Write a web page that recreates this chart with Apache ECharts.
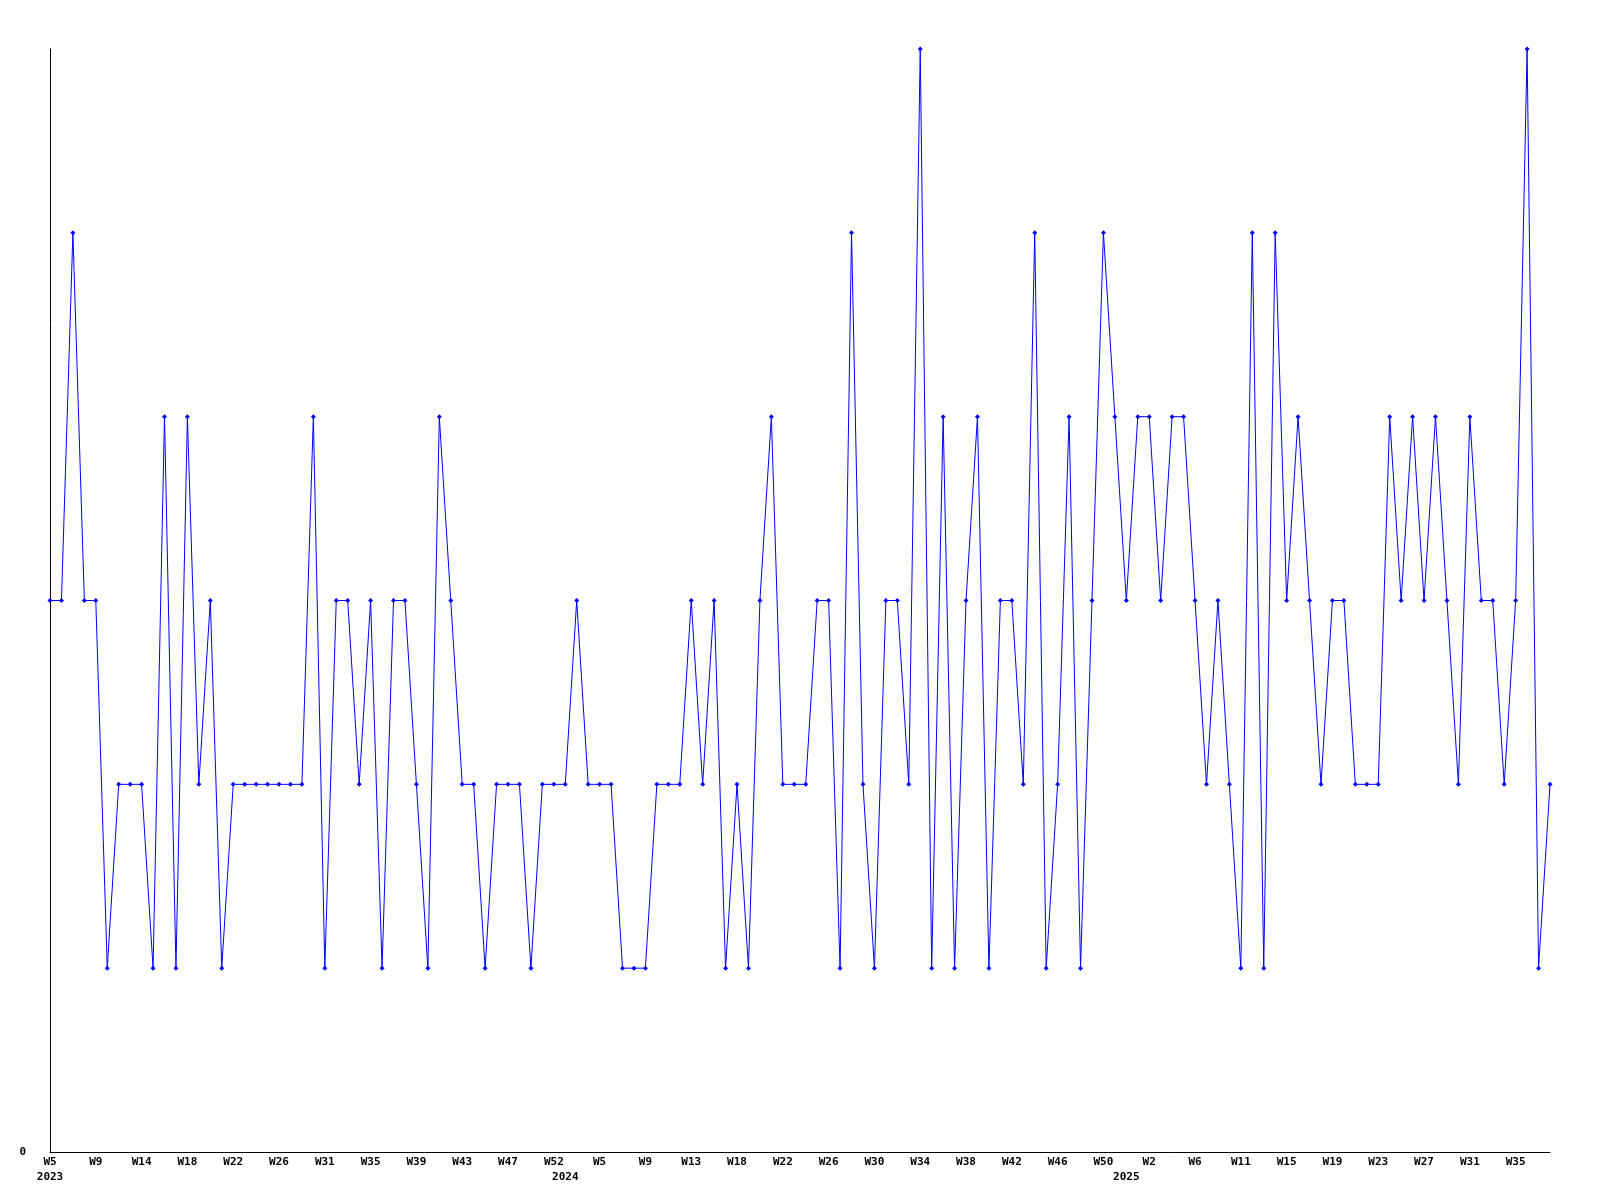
<!DOCTYPE html>
<html>
<head>
<meta charset="utf-8">
<script src="https://cdn.jsdelivr.net/npm/echarts@6/dist/echarts.min.js"></script>
<style>
html,body{margin:0;padding:0;background:#fff;}
#chart{width:1600px;height:1200px;}
</style>
</head>
<body>
<div id="chart"></div>
<script>
// Weekly counts, one per point (132 points)
const values = [
  3,3,5,3,3,1,2,2,2,1,4,1,4,2,3,1,
  2,2,2,2,2,2,2,4,1,3,3,2,3,1,3,3,2,1,
  4,3,2,2,1,2,2,2,1,2,2,2,3,2,2,2,
  1,1,1,2,2,2,3,2,3,1,2,1,3,4,2,2,2,
  3,3,1,5,2,1,3,3,2,6,1,4,1,3,4,1,3,
  3,2,5,1,2,4,1,3,5,4,3,4,4,3,4,4,
  3,2,3,2,1,5,1,5,3,4,3,2,3,3,2,2,2,4,3,4,3,4,3,2,4,3,3,2,3,6,1,2
];
// Tick labels shown every 4th point
const tickLabels = ["W5","W9","W14","W18","W22","W26","W31","W35","W39","W43","W47","W52",
  "W5","W9","W13","W18","W22","W26","W30","W34","W38","W42","W46","W50",
  "W2","W6","W11","W15","W19","W23","W27","W31","W35"];
// Year labels and the point index where each one sits
const yearLabels = ["2023","2024","2025"];
const yearIndex = [0,45,94];

const categories = values.map((v,i)=>"P"+i);

const chart = echarts.init(document.getElementById('chart'));
const font = {fontFamily:'DejaVu Sans Mono', fontWeight:'bold', fontSize:11, color:'#000'};
chart.setOption({
  animation:false,
  grid:{left:50,right:50,top:49,bottom:48,containLabel:false},
  xAxis:[{
    type:'category', data:categories, boundaryGap:false,
    axisLine:{lineStyle:{color:'#000',width:1}},
    axisTick:{show:false},
    splitLine:{show:false},
    axisLabel:Object.assign({interval:3, margin:5,
      formatter:(v,i)=>tickLabels[Math.round(i/4)]||''}, font)
  },{
    type:'category', data:categories, boundaryGap:false, position:'bottom',
    axisLine:{show:false}, axisTick:{show:false}, splitLine:{show:false},
    axisLabel:Object.assign({margin:20,
      interval:(i)=>yearIndex.indexOf(i)>=0,
      formatter:(v,i)=>{const k=yearIndex.indexOf(i);return k>=0?yearLabels[k]:'';}}, font)
  }],
  yAxis:{
    type:'value', min:0, max:6, interval:6,
    axisLine:{show:true,lineStyle:{color:'#000',width:1}},
    axisTick:{show:false},
    splitLine:{show:false},
    axisLabel:Object.assign({margin:24, formatter:(v)=>v===0?'0':''}, font)
  },
  series:[{
    type:'line', data:values, xAxisIndex:0,
    symbol:'diamond', symbolSize:5, showSymbol:true,
    lineStyle:{color:'#0000ff',width:1},
    itemStyle:{color:'#0000ff'}
  }]
});
</script>
</body>
</html>
